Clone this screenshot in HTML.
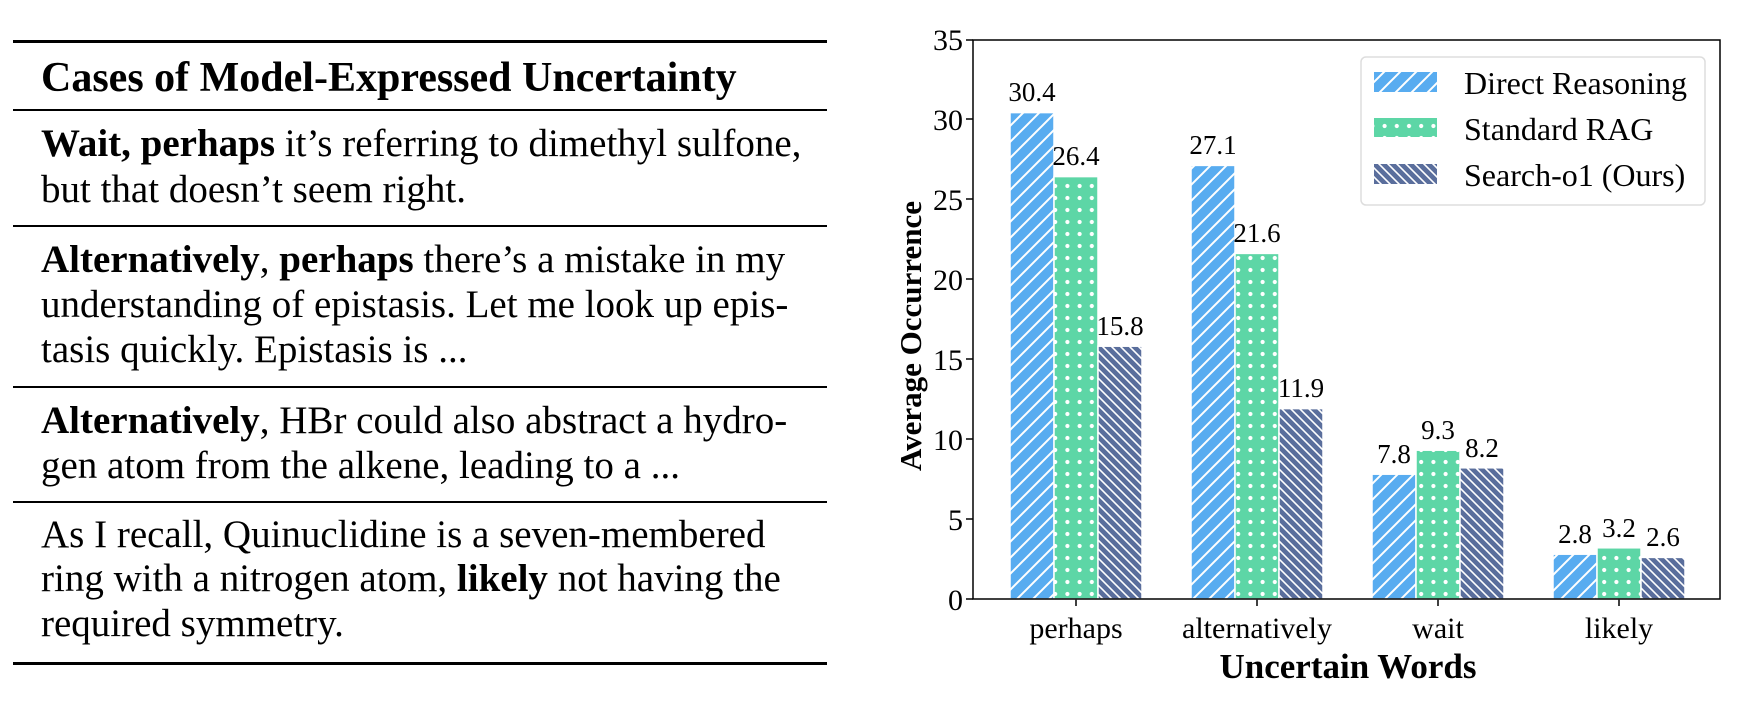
<!DOCTYPE html>
<html><head><meta charset="utf-8"><style>
html,body{margin:0;padding:0;background:#fff;}
body{width:1741px;height:712px;position:relative;overflow:hidden;}
.t{position:absolute;font-family:"Liberation Serif",serif;color:#000;font-size:39px;white-space:nowrap;line-height:1.15;}
.ln{position:absolute;left:13px;width:814px;background:#000;}
</style></head><body>
<div class="ln" style="top:40px;height:3px"></div>
<div class="ln" style="top:109px;height:2px"></div>
<div class="ln" style="top:225px;height:2px"></div>
<div class="ln" style="top:386px;height:2px"></div>
<div class="ln" style="top:501px;height:2px"></div>
<div class="ln" style="top:662px;height:3px"></div>
<div class="t" style="left:41px;top:54px;font-weight:bold;font-size:42px">Cases of Model-Expressed Uncertainty</div>
<div class="t" style="left:41px;top:122px"><b>Wait, perhaps</b> it’s referring to dimethyl sulfone,</div>
<div class="t" style="left:41px;top:168px">but that doesn’t seem right.</div>
<div class="t" style="left:41px;top:238px"><b>Alternatively</b>, <b>perhaps</b> there’s a mistake in my</div>
<div class="t" style="left:41px;top:283px">understanding of epistasis. Let me look up epis-</div>
<div class="t" style="left:41px;top:328px">tasis quickly. Epistasis is ...</div>
<div class="t" style="left:41px;top:399px"><b>Alternatively</b>, HBr could also abstract a hydro-</div>
<div class="t" style="left:41px;top:444px">gen atom from the alkene, leading to a ...</div>
<div class="t" style="left:41px;top:513px">As I recall, Quinuclidine is a seven-membered</div>
<div class="t" style="left:41px;top:557px">ring with a nitrogen atom, <b>likely</b> not having the</div>
<div class="t" style="left:41px;top:602px">required symmetry.</div>

<svg width="1741" height="712" style="position:absolute;left:0;top:0" font-family="Liberation Serif, serif">
<defs>
<pattern id="pb" width="16" height="16" patternUnits="userSpaceOnUse">
<rect width="16" height="16" fill="#58acf0"/>
<path d="M-4,4 L4,-4 M0,16 L16,0 M12,20 L20,12" stroke="#fff" stroke-width="2"/>
</pattern>
<pattern id="pn" width="9" height="9" patternUnits="userSpaceOnUse">
<rect width="9" height="9" fill="#5a6e9c"/>
<path d="M-3,6 L3,12 M0,0 L9,9 M6,-3 L12,3" stroke="#fff" stroke-width="1.6"/>
</pattern>
<pattern id="pg" width="12.2" height="12" patternUnits="userSpaceOnUse">
<rect width="12.2" height="12" fill="#5dd6a6"/>
<circle cx="6" cy="6" r="2.1" fill="#fff"/>
</pattern>
</defs>
<g font-size="30" text-anchor="end">
<text x="963" y="610">0</text><text x="963" y="530">5</text><text x="963" y="450">10</text>
<text x="963" y="370">15</text><text x="963" y="290">20</text><text x="963" y="210">25</text>
<text x="963" y="130">30</text><text x="963" y="50">35</text>
</g>
<g stroke="#000" stroke-width="1.5">
<line x1="966" y1="599" x2="973" y2="599"/><line x1="966" y1="519" x2="973" y2="519"/>
<line x1="966" y1="439" x2="973" y2="439"/><line x1="966" y1="359" x2="973" y2="359"/>
<line x1="966" y1="279" x2="973" y2="279"/><line x1="966" y1="199" x2="973" y2="199"/>
<line x1="966" y1="119" x2="973" y2="119"/><line x1="966" y1="40" x2="973" y2="40"/>
<line x1="1076" y1="599" x2="1076" y2="606"/><line x1="1257" y1="599" x2="1257" y2="606"/>
<line x1="1438" y1="599" x2="1438" y2="606"/><line x1="1619" y1="599" x2="1619" y2="606"/>
</g>
<g stroke="#fff" stroke-width="1.5">
<rect x="1010" y="112.6" width="44" height="486.4" fill="url(#pb)"/>
<rect x="1054" y="176.6" width="44" height="422.4" fill="url(#pg)"/>
<rect x="1098" y="346.2" width="44" height="252.8" fill="url(#pn)"/>
<rect x="1191" y="165.4" width="44" height="433.6" fill="url(#pb)"/>
<rect x="1235" y="253.4" width="44" height="345.6" fill="url(#pg)"/>
<rect x="1279" y="408.6" width="44" height="190.4" fill="url(#pn)"/>
<rect x="1372" y="474.2" width="44" height="124.8" fill="url(#pb)"/>
<rect x="1416" y="450.2" width="44" height="148.8" fill="url(#pg)"/>
<rect x="1460" y="467.8" width="44" height="131.2" fill="url(#pn)"/>
<rect x="1553" y="554.2" width="44" height="44.8" fill="url(#pb)"/>
<rect x="1597" y="547.8" width="44" height="51.2" fill="url(#pg)"/>
<rect x="1641" y="557.4" width="44" height="41.6" fill="url(#pn)"/>
</g>
<rect x="973" y="40" width="747" height="559" fill="none" stroke="#000" stroke-width="1.5"/>
<g font-size="27" text-anchor="middle">
<text x="1032" y="101">30.4</text><text x="1076" y="165">26.4</text><text x="1120" y="335">15.8</text>
<text x="1213" y="154">27.1</text><text x="1257" y="242">21.6</text><text x="1301" y="397">11.9</text>
<text x="1394" y="463">7.8</text><text x="1438" y="439">9.3</text><text x="1482" y="457">8.2</text>
<text x="1575" y="543">2.8</text><text x="1619" y="537">3.2</text><text x="1663" y="546">2.6</text>
</g>
<g font-size="30" text-anchor="middle">
<text x="1076" y="638">perhaps</text><text x="1257" y="638">alternatively</text>
<text x="1438" y="638">wait</text><text x="1619" y="638">likely</text>
</g>
<text x="1348" y="678" font-size="35" font-weight="bold" text-anchor="middle">Uncertain Words</text>
<text transform="translate(921,336) rotate(-90)" font-size="31" font-weight="bold" text-anchor="middle">Average Occurrence</text>
<rect x="1361" y="57" width="344" height="148" rx="5" fill="#fff" stroke="#ddd" stroke-width="1.5"/>
<rect x="1374" y="72" width="63" height="20" fill="url(#pb)"/>
<rect x="1374" y="118" width="63" height="19" fill="url(#pg)"/>
<rect x="1374" y="164" width="63" height="20" fill="url(#pn)"/>
<g font-size="32">
<text x="1464" y="94">Direct Reasoning</text>
<text x="1464" y="140">Standard RAG</text>
<text x="1464" y="186">Search-o1 (Ours)</text>
</g>
</svg>
</body></html>
